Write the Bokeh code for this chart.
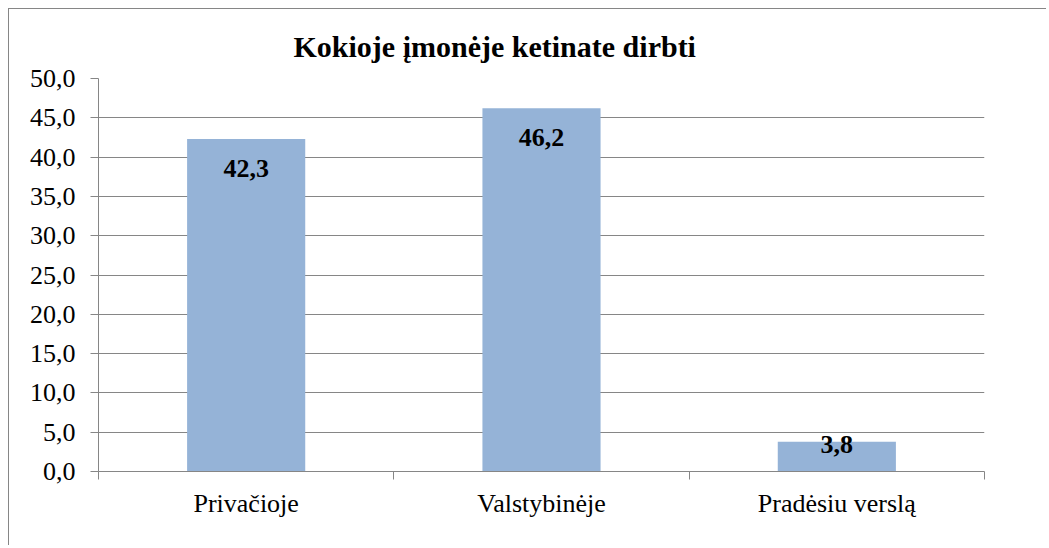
from bokeh.plotting import figure
from bokeh.models import Range1d, FixedTicker, Title
from bokeh.core.properties import value
from bokeh.embed import file_html
from bokeh.resources import INLINE

categories = ["Privačioje", "Valstybinėje", "Pradėsiu verslą"]
values = [42.3, 46.2, 3.8]
value_labels = ["42,3", "46,2", "3,8"]
y_ticks = [0, 5, 10, 15, 20, 25, 30, 35, 40, 45, 50]
y_tick_labels = ["0,0", "5,0", "10,0", "15,0", "20,0", "25,0", "30,0", "35,0", "40,0", "45,0", "50,0"]
title_text = "Kokioje įmonėje ketinate dirbti"

# style
label_dy = [29, 29, 3]
GRAY = "#868686"
FONT = "'Liberation Serif', 'Times New Roman', serif"

xs = [i + 0.5 for i in range(len(categories))]

p = figure(width=1038, height=537, output_backend="svg", toolbar_location=None,
           x_range=Range1d(0, len(categories)), y_range=Range1d(0, 50),
           min_border_left=89, min_border_right=63, min_border_top=69, min_border_bottom=75)
p.styles = {"margin-left": "8px", "margin-top": "8px",
            "border-left": "1px solid #868686", "border-top": "1px solid #868686"}
p.outline_line_color = None
p.background_fill_color = "white"
p.border_fill_color = "white"

p.vbar(x=xs, top=values, width=0.4, bottom=0, fill_color="#95B3D7", line_color=None)

p.text(x=xs, y=values, text=value_labels, y_offset=label_dy,
       text_font=value(FONT), text_font_style="bold", text_font_size="26px",
       text_align="center", text_baseline="middle", text_color="black")

# x axis
p.xaxis.ticker = FixedTicker(ticks=xs, minor_ticks=list(range(len(categories) + 1)))
p.xaxis.major_label_overrides = {x: c for x, c in zip(xs, categories)}
p.xaxis.major_tick_out = 0
p.xaxis.major_tick_in = 0
p.xaxis.minor_tick_out = 8
p.xaxis.minor_tick_in = 0
p.xaxis.minor_tick_line_color = GRAY
p.xaxis.axis_line_color = GRAY
p.xaxis.major_label_text_font = FONT
p.xaxis.major_label_text_font_size = "26px"
p.xaxis.major_label_text_color = "black"
p.xaxis.major_label_standoff = 9

# y axis
p.yaxis.ticker = FixedTicker(ticks=y_ticks, minor_ticks=[])
p.yaxis.major_label_overrides = {t: l for t, l in zip(y_ticks, y_tick_labels)}
p.yaxis.major_tick_out = 8
p.yaxis.major_tick_in = 0
p.yaxis.major_tick_line_color = GRAY
p.yaxis.axis_line_color = GRAY
p.yaxis.major_label_text_font = FONT
p.yaxis.major_label_text_font_size = "26px"
p.yaxis.major_label_text_color = "black"
p.yaxis.major_label_standoff = 15

p.xgrid.grid_line_color = None
p.ygrid.grid_line_color = GRAY
p.ygrid.grid_line_width = 1

p.title = None
spacer = Title(text=" ", text_font_size="8px", standoff=0)
main_title = Title(text=title_text, align="left", offset=195,
                   text_font=FONT, text_font_size="30px", text_font_style="bold",
                   text_color="black")
p.add_layout(spacer, "above")
p.add_layout(main_title, "above")

open("out.html", "w").write(file_html(p, INLINE))
